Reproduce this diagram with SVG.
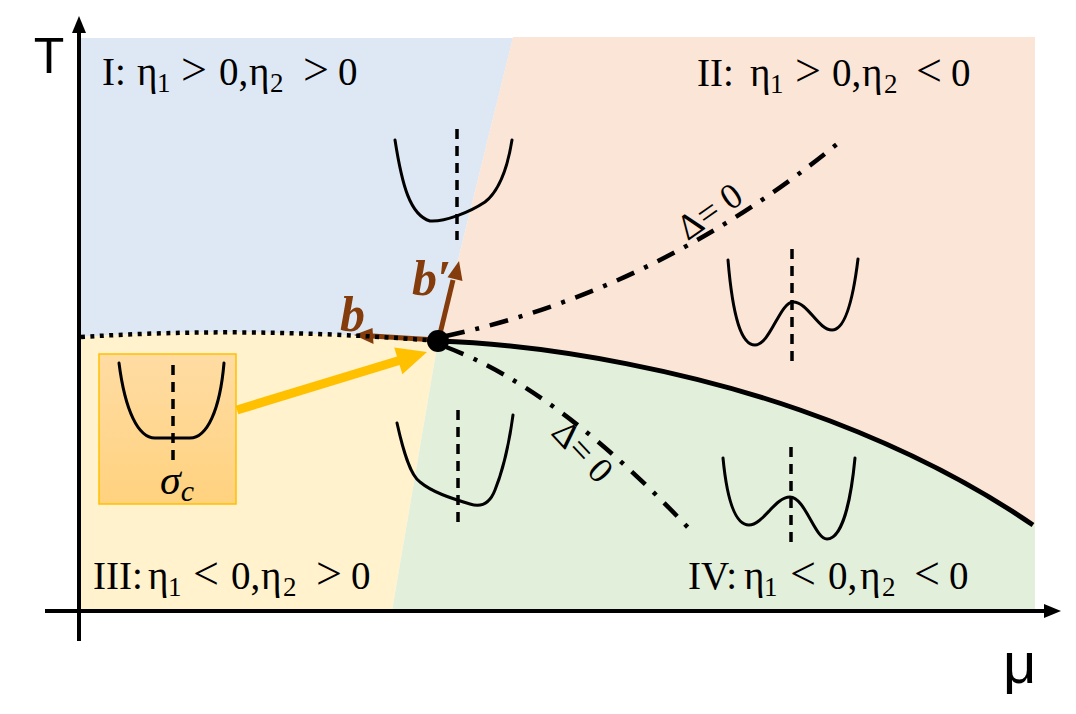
<svg xmlns="http://www.w3.org/2000/svg" width="1076" height="714" viewBox="0 0 1076 714">
<style>
.lbl{font-family:"Liberation Serif","DejaVu Serif",serif;font-size:39px;fill:#000}
.sub{font-size:27px}
.rel{font-size:46px}
.ax{font-family:"Liberation Sans",Arial,sans-serif;font-size:50px;fill:#000}
.pot{fill:none;stroke:#000;stroke-width:3;stroke-linecap:round}
.vd{stroke:#000;stroke-width:3.5;stroke-dasharray:10 7}
.dd{fill:none;stroke:#000;stroke-width:4.5;stroke-dasharray:19 11 4 11}
.dl{font-family:"Liberation Serif","DejaVu Serif",serif;font-size:36px;fill:#000}
.bv{font-family:"Liberation Serif","DejaVu Serif",serif;font-size:50px;font-weight:bold;font-style:italic;fill:#843C0C}
.brown{stroke:#843C0C;stroke-width:5;fill:none}
</style>
<defs>
<linearGradient id="boxg" x1="0" y1="0" x2="0" y2="1">
<stop offset="0" stop-color="#FFDCA4"/>
<stop offset="1" stop-color="#FFD27E"/>
</linearGradient>
</defs>
<rect width="1076" height="714" fill="#fff"/>
<g id="regions">
<path id="region-I" d="M81,38 L513,38 L438,341 Q250,326 81,337 Z" fill="#DEE8F4"/>
<path id="region-II" d="M513,37 L1035,37 L1035,526 L1033,525 C960,475 880,438 800,410 C700,375 560,345 438,341 Z" fill="#FBE5D6"/>
<path id="region-III" d="M81,337 Q250,326 438,341 L392,611 L81,611 Z" fill="#FFF2CC"/>
<path id="region-IV" d="M438,341 C560,345 700,375 800,410 C880,438 960,475 1033,525 L1035,526 L1035,611 L392,611 Z" fill="#E2EFDA"/>
</g>
<g id="axes">
<line x1="79" y1="30" x2="79" y2="641" stroke="#000" stroke-width="4"/>
<polygon points="79,16 72,33 86,33" fill="#000"/>
<line x1="45" y1="611" x2="1046" y2="611" stroke="#000" stroke-width="4"/>
<polygon points="1061,611 1044,604 1044,618" fill="#000"/>
<text class="ax" x="49" y="73" text-anchor="middle">T</text>
<text class="ax" x="1003" y="683" style="font-size:58px">μ</text>
</g>
<g id="boundaries">
<path id="solid-line" d="M438,341 C560,345 700,375 800,410 C880,438 960,475 1033,525" fill="none" stroke="#000" stroke-width="5"/>
<path id="delta-upper" class="dd" d="M446,336 Q660,290 842,140"/>
<path id="delta-lower" class="dd" d="M446,347 Q560,390 695,535"/>
</g>
<g id="potential-I">
<line class="vd" x1="457" y1="129" x2="457" y2="240"/>
<path class="pot" d="M395,140 C402,185 410,215 430,221 C445,222 470,212 485,202 C500,190 508,165 512,140"/>
</g>
<g id="potential-II">
<line class="vd" x1="792" y1="249" x2="792" y2="364"/>
<path class="pot" d="M728,260 C733,320 742,345 755,345 C770,345 780,302 793,302 C808,302 818,330 832,330 C845,330 853,300 858,259"/>
</g>
<g id="potential-III">
<line class="vd" x1="458" y1="410" x2="458" y2="526"/>
<path class="pot" d="M397,423 C403,450 410,475 420,482 C432,492 450,498 470,504 C482,508 490,503 495,490 C503,470 509,445 513,415"/>
</g>
<g id="potential-IV">
<line class="vd" x1="791" y1="447" x2="791" y2="543"/>
<path class="pot" d="M723,458 C728,510 738,525 749,525 C763,525 775,497 790,497 C805,497 815,539 827,539 C840,539 850,510 855,458"/>
</g>
<g id="sigma-box">
<rect x="99" y="354" width="137" height="150" fill="url(#boxg)" stroke="#FFC000" stroke-width="1.5"/>
<line class="vd" x1="173" y1="365" x2="173" y2="462"/>
<path class="pot" d="M119,363 C125,410 138,438 155,438 L190,438 C207,438 220,410 224,363"/>
<text class="dl" x="160" y="494" style="font-style:italic;font-size:42px">σ<tspan y="501" style="font-size:30px">c</tspan></text>
</g>
<g id="labels">
<text class="lbl" y="85"><tspan x="102">I:</tspan><tspan x="137">η</tspan><tspan class="sub" x="157" y="92">1</tspan><tspan class="rel" x="181" y="85">&gt;</tspan><tspan x="219">0,</tspan><tspan x="249">η</tspan><tspan class="sub" x="270" y="92">2</tspan><tspan class="rel" x="303" y="85">&gt;</tspan><tspan x="338">0</tspan></text>
<text class="lbl" y="86"><tspan x="697">II:</tspan><tspan x="750">η</tspan><tspan class="sub" x="770" y="93">1</tspan><tspan class="rel" x="795" y="86">&gt;</tspan><tspan x="832">0,</tspan><tspan x="862">η</tspan><tspan class="sub" x="884" y="93">2</tspan><tspan class="rel" x="916" y="86">&lt;</tspan><tspan x="951">0</tspan></text>
<text class="lbl" y="589"><tspan x="93">III:</tspan><tspan x="148">η</tspan><tspan class="sub" x="168" y="596">1</tspan><tspan class="rel" x="193" y="589">&lt;</tspan><tspan x="231">0,</tspan><tspan x="261">η</tspan><tspan class="sub" x="283" y="596">2</tspan><tspan class="rel" x="316" y="589">&gt;</tspan><tspan x="351">0</tspan></text>
<text class="lbl" y="589"><tspan x="688">IV:</tspan><tspan x="744">η</tspan><tspan class="sub" x="764" y="596">1</tspan><tspan class="rel" x="790" y="589">&lt;</tspan><tspan x="828">0,</tspan><tspan x="860">η</tspan><tspan class="sub" x="882" y="596">2</tspan><tspan class="rel" x="914" y="589">&lt;</tspan><tspan x="949">0</tspan></text>
<text class="dl" transform="translate(710,212) rotate(-35)" x="0" y="11" text-anchor="middle">Δ= 0</text>
<text class="dl" transform="translate(582,452) rotate(47)" x="0" y="11" text-anchor="middle">Δ= 0</text>
</g>
<g id="connectors">
<line x1="237" y1="410" x2="400" y2="360.3" stroke="#FFC000" stroke-width="9"/>
<polygon points="427,352 402.4,374.2 394.2,347.4" fill="#FFC000"/>
<line class="brown" x1="436" y1="340" x2="372" y2="336"/>
<polygon points="354,335 373.5,344 372.5,328" fill="#843C0C"/>
<line class="brown" x1="438" y1="342" x2="453" y2="280"/>
<polygon points="459,261 462.5,281 447.5,277.3" fill="#843C0C"/>
<path id="dotted-line" d="M81,337 Q250,326 438,341" fill="none" stroke="#000" stroke-width="4.5" stroke-dasharray="4 5.5"/>
<circle cx="438" cy="341" r="11" fill="#000"/>
</g>
<g id="vector-labels">
<text class="bv" x="340" y="331">b</text>
<text class="bv" x="412" y="295">b′</text>
</g>
</svg>
